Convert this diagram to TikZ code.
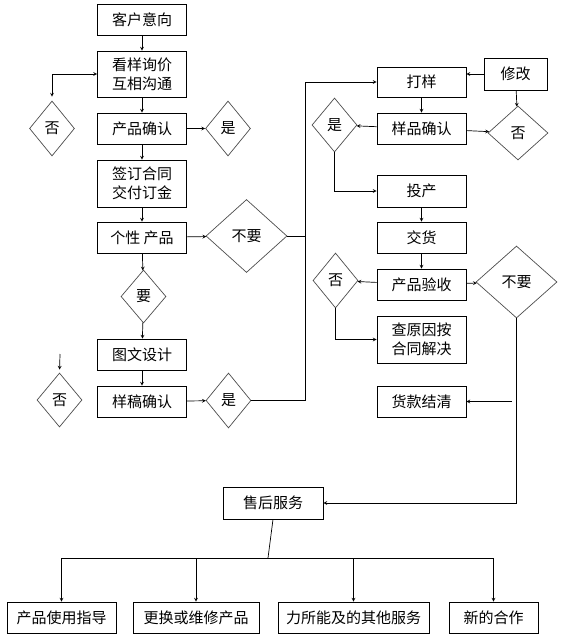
\documentclass[tikz,border=0pt]{standalone}
\usepackage{fontspec}
\setmainfont{Noto Sans CJK SC}
\usetikzlibrary{shapes.geometric}

\begin{document}
\begin{tikzpicture}[>=stealth, x=1pt, y=-1pt, font=\fontsize{15}{19}\selectfont,
  box/.style={draw, line width=0.8pt, inner sep=0pt, minimum width=89pt, minimum height=31pt, align=center},
  choice/.style={draw=black!70, line width=0.7pt, diamond, inner sep=0pt, minimum width=45pt, minimum height=55pt},
  link/.style={->, line width=0.7pt}]
\useasboundingbox (0,0) rectangle (562,640);
% left column
\node[box] (intent) at (142,19.5) {客户意向};
\node[box, minimum height=46pt] (inquire) at (142,74) {看样询价\\互相沟通};
\node[box] (confirm) at (142,128.5) {产品确认};
\node[box, minimum height=47pt] (contract) at (142,183.5) {签订合同\\交付订金};
\node[box] (custom) at (142,237.5) {个性 产品};
\node[box] (design) at (142,354.5) {图文设计};
\node[box] (draft) at (142,401.5) {样稿确认};
\node[choice] (yesA) at (228,128.5) {是};
\node[choice] (noA) at (52,128.5) {否};
\node[choice, minimum width=81pt, minimum height=73pt] (skipA) at (246.5,236) {不要};
\node[choice, minimum height=53pt] (want) at (143.5,296.5) {要};
\node[choice] (yesB) at (228.5,400.5) {是};
\node[choice, minimum height=54pt] (noB) at (59.5,400) {否};
% right column
\node[box, minimum height=30pt] (sample) at (421.5,82) {打样};
\node[box, minimum width=63pt, minimum height=32pt] (revise) at (515.5,74) {修改};
\node[box] (check) at (421.5,128.5) {样品确认};
\node[choice, minimum height=54pt] (yesC) at (334.5,125) {是};
\node[choice, minimum width=60pt, minimum height=54pt] (noC) at (518,133) {否};
\node[box, minimum height=32pt] (produce) at (421.5,191) {投产};
\node[box] (deliver) at (421.5,237.5) {交货};
\node[box] (accept) at (421.5,284.5) {产品验收};
\node[choice] (noD) at (335.5,280.5) {否};
\node[choice, minimum width=81pt, minimum height=72pt] (skipB) at (516.5,282) {不要};
\node[box, minimum height=47pt] (settle) at (421.5,339.5) {查原因按\\合同解决};
\node[box] (paid) at (421.5,401.5) {货款结清};
% after-sales
\node[box, minimum width=100pt, minimum height=32pt] (service) at (273,503) {售后服务};
\node[box, minimum width=109pt, minimum height=31pt] (guide) at (61.5,617.5) {产品使用指导};
\node[box, minimum width=126pt, minimum height=31pt] (repair) at (196,617.5) {更换或维修产品};
\node[box, minimum width=151pt, minimum height=31pt] (other) at (353.5,617.5) {力所能及的其他服务};
\node[box, minimum width=89pt, minimum height=31pt] (newdeal) at (493.5,617.5) {新的合作};
\coordinate (trunk) at (305,400.5);
\coordinate (bus) at (268,558);
\coordinate (payin) at (512,401.5);
\coordinate (noBin) at (60,354);
% connectors
\draw[link] (intent) -- (inquire);
\draw[link] (inquire) -- (confirm);
\draw[link] (confirm) -- (contract);
\draw[link] (contract) -- (custom);
\draw[link] (custom) -- (want);
\draw[link] (want) -- (design);
\draw[link] (design) -- (draft);
\draw[link] (confirm) -- (yesA);
\draw[link] (custom) -- (skipA);
\draw[link] (draft) -- (yesB);
\draw[<->, line width=0.7pt, shorten <=4pt] (noA.north) |- (inquire.west);
\draw[link, shorten >=3pt] (noBin) -- (noB.north);
\draw[link] (yesB) -- (trunk) |- (sample.west);
\draw[line width=0.7pt] (skipA.east) -- (skipA.east -| trunk);
\draw[link] (revise.west) -- (revise.west -| sample.east);
\draw[link] (revise) -- (noC);
\draw[link] (sample) -- (check);
\draw[link] (check) -- (noC);
\draw[link] (check) -- (yesC);
\draw[link] (yesC.south) |- (produce.west);
\draw[link] (produce) -- (deliver);
\draw[link] (deliver) -- (accept);
\draw[link] (accept) -- (noD);
\draw[link] (accept) -- (skipB);
\draw[link] (noD.south) |- (settle.west);
\draw[link] (payin) -- (paid.east);
\draw[link] (skipB.south) |- (service.east);
\draw[line width=0.7pt] (service.south) -- (bus);
\foreach \b in {guide,repair,other,newdeal}
  \draw[link] (bus) -| (\b.north);
\end{tikzpicture}
\end{document}
